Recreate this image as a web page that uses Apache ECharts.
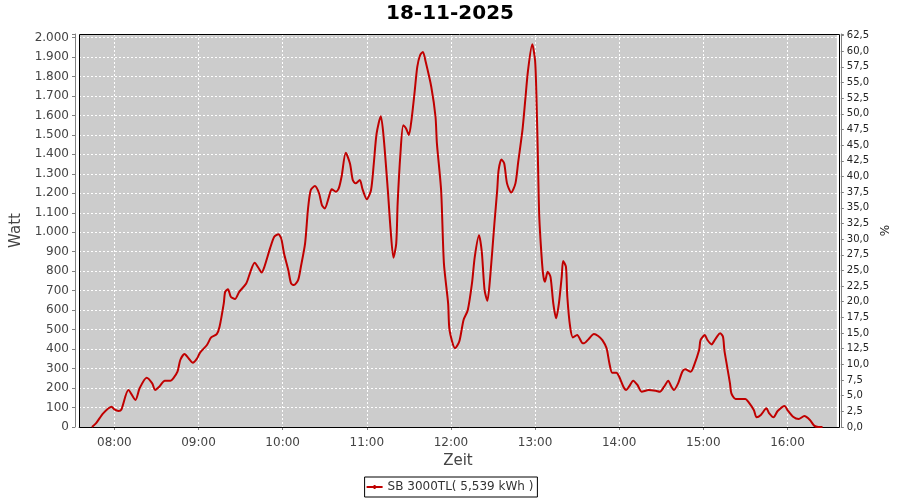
<!DOCTYPE html>
<html><head><meta charset="utf-8">
<script src="https://cdn.jsdelivr.net/npm/echarts@6/dist/echarts.min.js"></script>
<style>html,body{margin:0;padding:0;background:#fff}#c{width:900px;height:500px}</style>
</head><body><div id="c"></div>
<script>
const chartTitle = '18-11-2025';
const seriesName = 'SB 3000TL( 5,539 kWh )';
const xAxisName = 'Zeit';
const leftAxisName = 'Watt';
const rightAxisName = '%';
const day = [2025, 10, 18];

const times = ['07:44','07:47','07:52','07:58','08:00','08:03','08:05','08:10','08:15','08:18','08:23','08:27','08:29','08:32','08:36','08:40','08:42','08:45','08:47','08:50','08:53','08:56','08:59','09:01','09:06','09:09','09:13','09:15','09:18','09:19','09:21','09:23','09:26','09:29','09:34','09:37','09:40','09:43','09:45','09:47','09:51','09:54','09:57','09:59','10:01','10:04','10:06','10:08','10:11','10:13','10:16','10:18','10:20','10:23','10:26','10:28','10:30','10:33','10:35','10:38','10:40','10:42','10:45','10:48','10:50','10:52','10:55','10:57','11:00','11:03','11:05','11:07','11:10','11:12','11:15','11:17','11:19','11:21','11:22','11:24','11:26','11:28','11:30','11:32','11:34','11:36','11:38','11:40','11:42','11:46','11:49','11:50','11:53','11:55','11:58','11:59','12:03','12:06','12:09','12:12','12:15','12:17','12:20','12:22','12:24','12:26','12:28','12:31','12:33','12:34','12:36','12:38','12:40','12:43','12:46','12:48','12:51','12:53','12:55','12:58','13:00','13:01','13:02','13:03','13:05','13:06','13:07','13:09','13:11','13:13','13:15','13:17','13:19','13:20','13:22','13:23','13:25','13:27','13:30','13:34','13:35','13:38','13:42','13:45','13:48','13:51','13:53','13:55','13:58','14:00','14:03','14:05','14:07','14:10','14:13','14:16','14:21','14:26','14:29','14:32','14:35','14:37','14:39','14:42','14:45','14:47','14:51','14:53','14:57','14:58','15:01','15:03','15:06','15:07','15:10','15:12','15:14','15:15','15:17','15:19','15:20','15:23','15:30','15:32','15:36','15:38','15:41','15:45','15:47','15:50','15:53','15:58','16:00','16:04','16:08','16:12','16:16','16:19','16:22','16:25'];
const watts = [0,20,70,104,90,82,90,190,139,199,253,224,190,207,238,238,250,284,344,375,352,330,352,381,421,460,477,515,635,694,707,669,657,694,737,797,843,814,793,823,917,977,990,968,891,806,737,729,754,823,943,1114,1216,1237,1199,1139,1122,1182,1221,1208,1225,1285,1408,1353,1268,1251,1268,1220,1170,1216,1353,1507,1596,1490,1216,1011,869,943,1148,1405,1550,1533,1499,1584,1713,1849,1909,1926,1875,1746,1593,1456,1216,840,635,498,404,440,550,600,737,874,985,900,703,648,771,1045,1216,1319,1374,1353,1251,1204,1251,1362,1524,1678,1832,1965,1883,1695,1387,1079,840,771,746,797,771,635,558,635,771,853,823,669,515,460,472,430,430,450,477,467,446,404,327,279,279,258,207,190,207,238,216,181,190,186,181,207,238,210,190,224,284,296,284,309,395,446,472,446,424,433,467,481,463,395,309,224,173,144,144,130,87,50,62,96,70,50,82,108,87,53,41,56,36,7,0,0];

const hourTicks = ['08:00','09:00','10:00','11:00','12:00','13:00','14:00','15:00','16:00'];
const wattTicks = [0,100,200,300,400,500,600,700,800,900,1000,1100,1200,1300,1400,1500,1600,1700,1800,1900,2000];
const pctTicks = [0,2.5,5,7.5,10,12.5,15,17.5,20,22.5,25,27.5,30,32.5,35,37.5,40,42.5,45,47.5,50,52.5,55,57.5,60,62.5];
const xRange = ['07:34:46','16:35:12'];
const wattMax = 2018;
const pctMax = 62.75;

function ts(hms){ const p = hms.split(':').map(Number); return new Date(day[0], day[1], day[2], p[0], p[1], p[2]||0).getTime(); }
function pad(n){ return (n<10?'0':'')+n; }

const G = {left:79, right:61, top:34, bottom:73};
const W = 900, H = 500;

const chart = echarts.init(document.getElementById('c'), null, {renderer:'canvas'});
const axisGray = '#808080';
const labelFont = 'DejaVu Sans';

chart.setOption({
  animation: false,
  backgroundColor: '#ffffff',
  title: {
    text: chartTitle, left: 'center', top: 2, padding: [0,0,0,0],
    textStyle: {fontFamily: labelFont, fontWeight: 'bold', fontSize: 20, lineHeight: 24, color: '#000'}
  },
  legend: {
    data: [{name: seriesName, icon: 'path://M0,3L16,3L16,5L0,5Z M7,2L9,2L9,6L7,6Z'}],
    left: 'center', top: 477,
    padding: [4,4,4,2], borderColor: '#000', borderWidth: 1, backgroundColor: '#fff',
    itemWidth: 16, itemHeight: 4,
    textStyle: {fontFamily: labelFont, fontSize: 12, color: '#333'}
  },
  grid: {
    left: G.left, right: G.right, top: G.top, bottom: G.bottom,
    show: true, backgroundColor: '#cccccc', borderWidth: 0
  },
  xAxis: {
    type: 'time',
    min: ts(xRange[0]), max: ts(xRange[1]),
    minInterval: 3600000, maxInterval: 3600000,
    offset: 4,
    name: xAxisName, nameLocation: 'middle', nameGap: 22,
    nameTextStyle: {fontFamily: labelFont, fontSize: 15, color: '#444'},
    axisLine: {show: true, lineStyle: {color: axisGray, width: 1}},
    axisTick: {show: true, length: 3, lineStyle: {color: axisGray}},
    axisLabel: {
      fontFamily: labelFont, fontSize: 12, color: '#444', margin: 6,
      hideOverlap: false,
      formatter: function(v){ const d = new Date(v); const s = pad(d.getHours())+':'+pad(d.getMinutes()); return hourTicks.indexOf(s) >= 0 && d.getSeconds()===0 ? s : ''; }
    },
    splitLine: {show: true, lineStyle: {color: '#ffffff', type: [2,2], width: 1}}
  },
  yAxis: [{
    type: 'value', min: 0, max: wattMax, interval: 100,
    position: 'left', offset: 4,
    name: leftAxisName, nameLocation: 'middle', nameGap: 47, nameRotate: 90,
    nameTextStyle: {fontFamily: labelFont, fontSize: 15, color: '#444'},
    axisLine: {show: true, lineStyle: {color: axisGray, width: 1}},
    axisTick: {show: true, length: 3, lineStyle: {color: axisGray}},
    axisLabel: {
      fontFamily: labelFont, fontSize: 12, color: '#444', margin: 6,
      formatter: function(v){ const k = Math.round(v/100); if (Math.abs(v-k*100)>1e-6 || wattTicks.indexOf(k*100)<0) return ''; return String(k*100).replace(/\B(?=(\d{3})+(?!\d))/g, '.'); }
    },
    splitLine: {show: true, lineStyle: {color: '#ffffff', type: [2,2], width: 1}}
  }, {
    type: 'value', min: 0, max: pctMax, interval: 2.5,
    position: 'right', offset: 4,
    name: rightAxisName, nameLocation: 'middle', nameGap: 34, nameRotate: 90,
    nameTextStyle: {fontFamily: labelFont, fontSize: 12, color: '#222'},
    axisLine: {show: true, lineStyle: {color: axisGray, width: 1}},
    axisTick: {show: true, length: 3, lineStyle: {color: axisGray}},
    axisLabel: {
      fontFamily: labelFont, fontSize: 10, color: '#222', margin: 6,
      formatter: function(v){ const k = Math.round(v/2.5); if (Math.abs(v-k*2.5)>1e-6 || pctTicks.indexOf(k*2.5)<0) return ''; return (k*2.5).toFixed(1).replace('.', ','); }
    },
    splitLine: {show: false}
  }],
  graphic: [{
    type: 'rect', z: 1, silent: true,
    shape: {x: G.left+0.5, y: G.top+0.5, width: W-G.left-G.right, height: H-G.top-G.bottom},
    style: {fill: null, stroke: '#000', lineWidth: 1}
  }],
  series: [{
    name: seriesName, type: 'line', yAxisIndex: 0,
    data: times.map((t,i)=>[ts(t), watts[i]]),
    showSymbol: false, symbol: 'none',
    smooth: 0.25,
    lineStyle: {color: '#c00000', width: 2},
    itemStyle: {color: '#c00000'},
    z: 3
  }]
});
</script></body></html>
